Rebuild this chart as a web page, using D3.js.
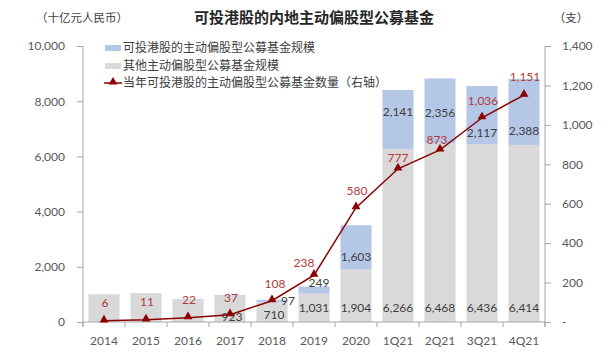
<!DOCTYPE html>
<html>
<head>
<meta charset="utf-8">
<script src="https://cdn.jsdelivr.net/npm/d3@7/dist/d3.min.js"></script>
<style>
  html, body { margin: 0; padding: 0; background: #fff; }
  svg { display: block; }
  text { font-family: Lato, "Noto Sans CJK SC", sans-serif; }
  .cjk { font-family: "Noto Sans CJK SC", sans-serif; }
</style>
</head>
<body>
<svg id="chart" width="611" height="362"></svg>
<script>
// ---------- data ----------
const categories = ["2014", "2015", "2016", "2017", "2018", "2019", "2020", "1Q21", "2Q21", "3Q21", "4Q21"];
const hkFundAum = [8, 10, 15, 45, 97, 249, 1603, 2141, 2356, 2117, 2388];          // 十亿元人民币
const otherFundAum = [1000, 1040, 820, 923, 710, 1031, 1904, 6266, 6468, 6436, 6414]; // 十亿元人民币
const hkFundCount = [6, 11, 22, 37, 108, 238, 580, 777, 873, 1036, 1151];           // 支
const leftTicks = [0, 2000, 4000, 6000, 8000, 10000];
const rightTicks = [0, 200, 400, 600, 800, 1000, 1200, 1400];
const showOtherLabel = [false, false, false, true, true, true, true, true, true, true, true];
const showHkLabel = [false, false, false, false, true, true, true, true, true, true, true];

const titleText = "可投港股的内地主动偏股型公募基金";
const leftUnit = "（十亿元人民币）";
const rightUnit = "（支）";
const legendLabels = ["可投港股的主动偏股型公募基金规模", "其他主动偏股型公募基金规模", "当年可投港股的主动偏股型公募基金数量（右轴）"];

// ---------- label placement tweaks (layout, px) ----------
const otherLabelDy = [0, 0, 0, -5, -7, -14, -14, -14, -14, -14, -14]; // from baseline
const otherLabelDx = [0, 0, 0, 2, 2, 0, 0, 0, 0, 0, 0];
const hkLabelDy = [0, 0, 0, 0, 0, -7, 9, -8, 2, 18, 19];   // from segment centre
const hkLabelDx = [0, 0, 0, 0, 16, 5, 0, 0, 0, 0, 0];
const countLabelDy = [-18, -18, -18, -17, -17, -12, -17, -11, -10, -17, -18];
const countLabelDx = [1, 1, 1, 1, 3, -10, 1, 0, -3, 1, 1];

// ---------- colors ----------
const blue = "#B4C7E7", gray = "#D9D9D9", lineColor = "#8B0000", countColor = "#B23A3A";
const axisColor = "#A6A6A6", textColor = "#404040";

const svg = d3.select("#chart");
const margin = { left: 83, right: 66, top: 46, bottom: 40 };
const W = 611, H = 362;
const x0 = margin.left, x1 = W - margin.right, yTop = margin.top, yBase = H - margin.bottom;

const x = d3.scaleBand().domain(categories).range([x0, x1]).paddingInner(0.26).paddingOuter(0.13);
const yL = d3.scaleLinear().domain([0, 10000]).range([yBase, yTop]);
const yR = d3.scaleLinear().domain([0, 1400]).range([yBase, yTop]);

// title & units
svg.append("text").attr("class", "cjk").attr("x", 314).attr("y", 18).attr("dy", "0.35em")
  .attr("text-anchor", "middle").attr("font-size", 15).attr("font-weight", "bold").attr("fill", "#262626").text(titleText);
svg.append("text").attr("class", "cjk").attr("x", 82).attr("y", 18).attr("dy", "0.35em")
  .attr("text-anchor", "middle").attr("font-size", 11.5).attr("fill", textColor).text(leftUnit);
svg.append("text").attr("class", "cjk").attr("x", 571).attr("y", 18).attr("dy", "0.35em")
  .attr("text-anchor", "middle").attr("font-size", 11.5).attr("fill", textColor).text(rightUnit);

// bars
const g = svg.append("g");
categories.forEach((c, i) => {
  const o = otherFundAum[i], h = hkFundAum[i];
  g.append("rect").attr("x", x(c)).attr("width", x.bandwidth())
    .attr("y", yL(o)).attr("height", yL(0) - yL(o)).attr("fill", gray);
  g.append("rect").attr("x", x(c)).attr("width", x.bandwidth())
    .attr("y", yL(o + h)).attr("height", yL(o) - yL(o + h)).attr("fill", blue);
});

// axes
const fmt = d3.format(",");
const axL = d3.axisLeft(yL).tickValues(leftTicks).tickFormat(fmt).tickSize(6).tickPadding(12);
const gL = svg.append("g").attr("transform", `translate(${x0},0)`).call(axL);
const axR = d3.axisRight(yR).tickValues(rightTicks).tickFormat(d => d === 0 ? "-" : fmt(d)).tickSize(6).tickPadding(11);
const gR = svg.append("g").attr("transform", `translate(${x1},0)`).call(axR);
const bandTicks = d3.range(categories.length + 1).map(k => x0 + k * (x1 - x0) / categories.length);
const axB = d3.axisBottom(x).tickSize(0).tickPadding(14);
const gB = svg.append("g").attr("transform", `translate(0,${yBase})`).call(axB);
gB.selectAll(".tickmark").data(bandTicks).enter().append("line")
  .attr("x1", d => d).attr("x2", d => d).attr("y1", 0).attr("y2", 5).attr("stroke", axisColor);
[gL, gR, gB].forEach(a => {
  a.select(".domain").attr("stroke", axisColor);
  a.selectAll(".tick line").attr("stroke", axisColor);
  a.selectAll("text").attr("fill", "#595959").attr("font-size", 12).attr("font-family", "Lato, sans-serif");
});
gL.select(".domain").attr("d", `M-6,${yTop}H0V${yBase + 5}`).attr("d", `M0,${yTop}V${yBase + 5}`);
gR.select(".domain").attr("d", `M0,${yTop}V${yBase + 5}`);
gB.select(".domain").attr("d", `M${x0},0H${x1}`);

// value labels
categories.forEach((c, i) => {
  const cx = x(c) + x.bandwidth() / 2;
  if (showOtherLabel[i]) {
    svg.append("text").attr("x", cx + otherLabelDx[i]).attr("y", yL(0) + otherLabelDy[i]).attr("dy", "0.35em")
      .attr("text-anchor", "middle").attr("font-size", 12).attr("fill", textColor).text(fmt(otherFundAum[i]));
  }
  if (showHkLabel[i]) {
    const mid = (yL(otherFundAum[i]) + yL(otherFundAum[i] + hkFundAum[i])) / 2;
    svg.append("text").attr("x", cx + hkLabelDx[i]).attr("y", mid + hkLabelDy[i]).attr("dy", "0.35em")
      .attr("text-anchor", "middle").attr("font-size", 12).attr("fill", textColor).text(fmt(hkFundAum[i]));
  }
});

// line
const pts = categories.map((c, i) => [x(c) + x.bandwidth() / 2, yR(hkFundCount[i])]);
svg.append("path").attr("d", d3.line()(pts)).attr("fill", "none").attr("stroke", lineColor).attr("stroke-width", 1.5);
const tri = d3.symbol().type(d3.symbolTriangle).size(34);
svg.selectAll(".mk").data(pts).enter().append("path")
  .attr("transform", d => `translate(${d[0]},${d[1] - 1})`).attr("d", tri()).attr("fill", lineColor);
categories.forEach((c, i) => {
  svg.append("text").attr("x", pts[i][0] + countLabelDx[i]).attr("y", pts[i][1] + countLabelDy[i]).attr("dy", "0.35em")
    .attr("text-anchor", "middle").attr("font-size", 12).attr("fill", countColor).text(fmt(hkFundCount[i]));
});

// legend
const lg = svg.append("g");
const rowsY = [48, 66, 83];
lg.append("rect").attr("x", 105).attr("y", rowsY[0] - 3).attr("width", 16).attr("height", 6).attr("fill", blue);
lg.append("rect").attr("x", 105).attr("y", rowsY[1] - 3).attr("width", 16).attr("height", 6).attr("fill", gray);
lg.append("line").attr("x1", 104).attr("x2", 122).attr("y1", rowsY[2]).attr("y2", rowsY[2]).attr("stroke", lineColor).attr("stroke-width", 1.5);
lg.append("path").attr("transform", `translate(113,${rowsY[2] - 1})`).attr("d", tri()).attr("fill", lineColor);
legendLabels.forEach((t, i) => {
  lg.append("text").attr("class", "cjk").attr("x", 123).attr("y", rowsY[i]).attr("dy", "0.35em")
    .attr("font-size", 12).attr("fill", textColor).attr("font-family", "Noto Sans CJK SC, sans-serif").text(t);
});
</script>
</body>
</html>
